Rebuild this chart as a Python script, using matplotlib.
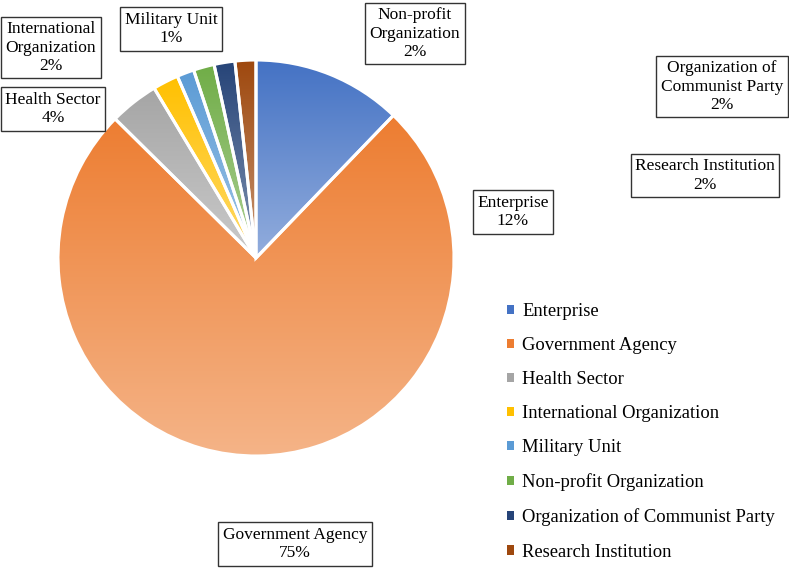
import numpy as np
import matplotlib
matplotlib.use("Agg")
import matplotlib.pyplot as plt
from matplotlib.colors import to_rgb

categories = ["Enterprise", "Government Agency", "Health Sector",
              "International Organization", "Military Unit",
              "Non-profit Organization", "Organization of Communist Party",
              "Research Institution"]
values = [12.2, 75.2, 4.0, 2.1, 1.4, 1.7, 1.7, 1.7]
label_text = ["Enterprise", "Government Agency", "Health Sector",
              "International\nOrganization", "Military Unit",
              "Non-profit\nOrganization", "Organization of\nCommunist Party",
              "Research Institution"]
colors = ["#4472C4", "#ED7D31", "#A5A5A5", "#FFC000", "#5B9BD5",
          "#70AD47", "#264478", "#9E480E"]

W, H = 789, 569
fig = plt.figure(figsize=(W / 100, H / 100), dpi=100)
ax = fig.add_axes([0, 0, 1, 1])
plt.rcParams['font.family'] = ['Liberation Serif', 'DejaVu Serif']

cx, cy, R = 256, H - 258, 198

def lighten(c, f):
    r = np.array(to_rgb(c))
    return r + (1 - r) * f

wedges, _ = ax.pie(values, colors=colors, startangle=90, counterclock=False,
                   center=(cx, cy), radius=R,
                   wedgeprops=dict(linewidth=0))

for w, c in zip(wedges, colors):
    ext = w.get_path().get_extents()
    top = np.array(to_rgb(c))
    bot = lighten(c, 0.42)
    t = np.linspace(0, 1, 256)[:, None]
    grad = (top[None, :] * (1 - t) + bot[None, :] * t)[:, None, :]
    im = ax.imshow(grad, extent=(ext.x0, ext.x1, ext.y0, ext.y1),
                   origin='upper', aspect='auto', interpolation='bilinear',
                   zorder=2)
    im.set_clip_path(w)

ax.pie(values, colors=['none'] * len(values), startangle=90, counterclock=False,
       center=(cx, cy), radius=R,
       wedgeprops=dict(edgecolor='white', linewidth=2.2, zorder=3))

label_pos = [(513, 212), (295, 544), (53, 109), (51, 47.5), (171, 29),
             (415, 33.5), (722, 86.5), (705, 175.5)]
for txt, v, (x, y) in zip(label_text, values, label_pos):
    ax.text(x, H - y, f"{txt}\n{round(v):d}%", ha='center', va='center',
            fontsize=12.5, linespacing=1.2, zorder=5,
            bbox=dict(boxstyle='square,pad=0.25', facecolor='white',
                      edgecolor='#333333', linewidth=1.0))

ax.set_xlim(0, W)
ax.set_ylim(0, H)
ax.set_aspect('auto')
ax.axis('off')

leg = ax.legend(wedges, categories, loc='upper left',
                bbox_to_anchor=(507 / W, 1 - 303 / H), bbox_transform=fig.transFigure,
                frameon=False, fontsize=13.4, borderpad=0, borderaxespad=0,
                handlelength=0.38, handleheight=0.38, handletextpad=0.43,
                labelspacing=0.92)

fig.savefig("out.png", dpi=100)
